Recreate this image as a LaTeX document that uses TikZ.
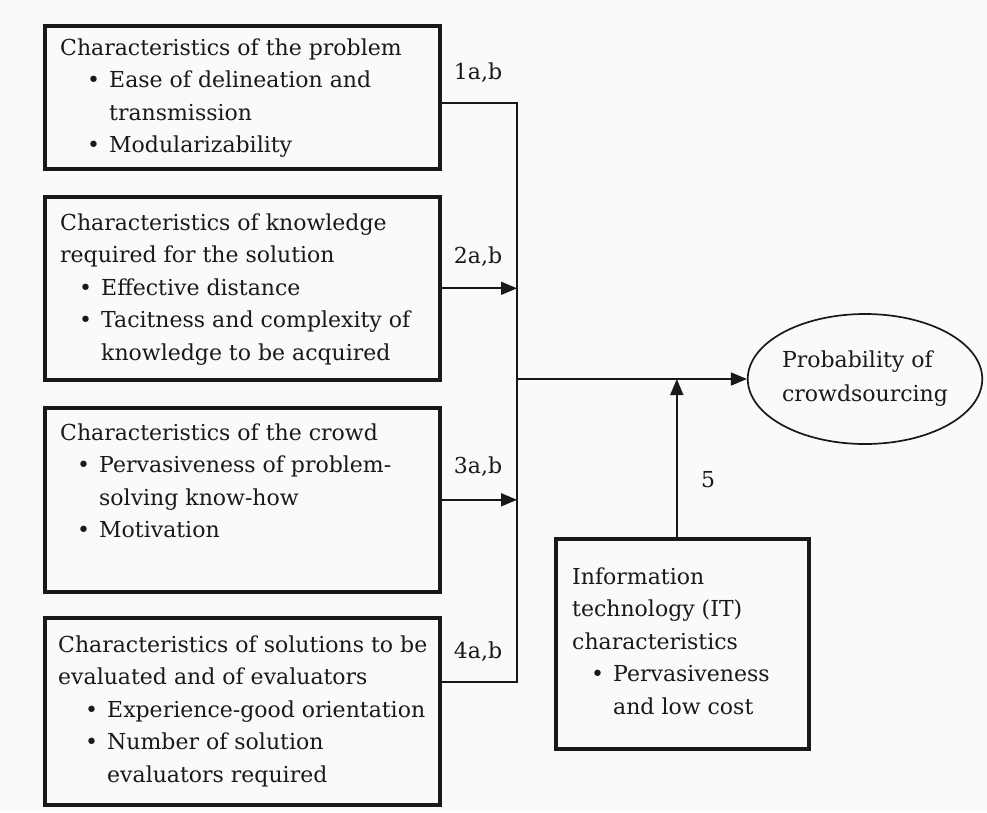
\documentclass[tikz,border=0pt]{standalone}
\usepackage{fontspec}
\setmainfont{DejaVu Serif}
\usetikzlibrary{arrows.meta,shapes.geometric}
\definecolor{bgc}{RGB}{250,250,250}
\definecolor{ink}{RGB}{25,25,25}
\newcommand\fsz{\fontsize{22}{32.5}\selectfont}
\newcommand\bul[2]{\hspace*{#1}\makebox[22pt][l]{\textbullet}#2}
\newcommand\cnt[2]{\hspace*{\dimexpr#1+22pt\relax}#2}
\begin{document}
\begin{tikzpicture}[x=1pt,y=-1pt,
  box/.style={draw=ink, line width=3.6pt, anchor=north west, inner sep=0pt},
  txt/.style={anchor=base west, inner sep=0pt, font=\fsz, text=ink},
  conn/.style={draw=ink, line width=1.7pt},
  arr/.style={conn, -{Triangle[length=16pt,width=13pt]}},
  lab/.style={font=\fsz, inner sep=0pt, text=ink}]
\fill[bgc] (0,0) rectangle (987,812);
\useasboundingbox (0,0) rectangle (987,812);

% boxes
\node[box, minimum width=395, minimum height=143] (b1) at (43,24) {};
\node[box, minimum width=395, minimum height=183] (b2) at (43,195) {};
\node[box, minimum width=395, minimum height=184] (b3) at (43,406) {};
\node[box, minimum width=395, minimum height=187] (b4) at (43,616) {};
\node[box, minimum width=253, minimum height=210] (it) at (554,537) {};

% box texts
\node[txt] (t1) at (60,55) {\begin{tabular}[t]{@{}l@{}}
Characteristics of the problem\\
\bul{27pt}{Ease of delineation and}\\
\cnt{27pt}{transmission}\\
\bul{27pt}{Modularizability}
\end{tabular}};
\node[txt] (t2) at (60,230) {\begin{tabular}[t]{@{}l@{}}
Characteristics of knowledge\\
required for the solution\\
\bul{19pt}{Effective distance}\\
\bul{19pt}{Tacitness and complexity of}\\
\cnt{19pt}{knowledge to be acquired}
\end{tabular}};
\node[txt] (t3) at (60,440) {\begin{tabular}[t]{@{}l@{}}
Characteristics of the crowd\\
\bul{17pt}{Pervasiveness of problem-}\\
\cnt{17pt}{solving know-how}\\
\bul{17pt}{Motivation}
\end{tabular}};
\node[txt] (t4) at (58,652) {\begin{tabular}[t]{@{}l@{}}
Characteristics of solutions to be\\
evaluated and of evaluators\\
\bul{27pt}{Experience-good orientation}\\
\bul{27pt}{Number of solution}\\
\cnt{27pt}{evaluators required}
\end{tabular}};
\node[txt] (t5) at (572,584) {\begin{tabular}[t]{@{}l@{}}
Information\\
technology (IT)\\
characteristics\\
\bul{19pt}{Pervasiveness}\\
\cnt{19pt}{and low cost}
\end{tabular}};

% outcome
\node[draw=ink, ellipse, line width=1.7pt, minimum width=225, minimum height=130,
  inner sep=0pt, align=left, text=ink, font=\fontsize{22}{34}\selectfont]
  (ell) at (865,379) {Probability of\\crowdsourcing};

% labels
\node[lab] (l1) at (478,73) {1a,b};
\node[lab] (l2) at (478,257) {2a,b};
\node[lab] (l3) at (478,467) {3a,b};
\node[lab] (l4) at (478,652) {4a,b};
\node[lab] (l5) at (708,480) {5};

% connectors
\coordinate (V) at (517,379);
\coordinate (y1) at (0,103);
\coordinate (y4) at (0,682);
\coordinate (itp) at ([xshift=-5.5pt]it.north);
\draw[conn] (b1.east |- y1) -- (V |- y1) -- (V |- y4) -- (b4.east |- y4);
\draw[arr] (b2.east) -- (V |- b2.east);
\draw[arr] (b3.east) -- (V |- b3.east);
\draw[arr] (V) -- (ell.west);
\draw[arr] (itp) -- (itp |- V);
\end{tikzpicture}
\end{document}
